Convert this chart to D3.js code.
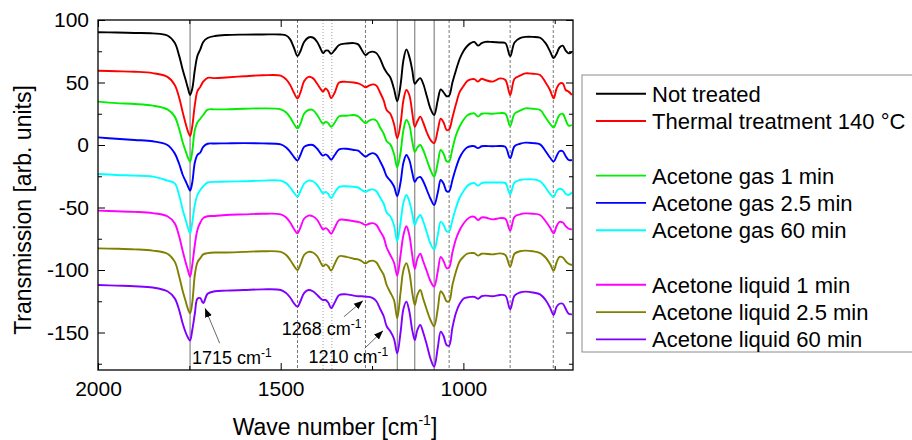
<!DOCTYPE html>
<html>
<head>
<meta charset="utf-8">
<script src="https://cdn.jsdelivr.net/npm/d3@7/dist/d3.min.js"></script>
<style>
  html, body { margin: 0; padding: 0; background: #fff; }
  svg { display: block; font-family: "Liberation Sans", Arial, sans-serif; }
</style>
</head>
<body>
<svg id="chart" width="912" height="440"></svg>
<script>
// Wavenumber grid (cm^-1) shared by all spectra
const wavenumbers = [
  2000, 1950, 1900, 1850, 1810, 1790, 1778, 1768, 1760, 1754,
  1748, 1742, 1735, 1728, 1720, 1712, 1700, 1680, 1650, 1600,
  1550, 1500, 1485, 1474, 1464, 1454, 1446, 1436, 1424, 1412,
  1400, 1390, 1384, 1377, 1370, 1362, 1352, 1340, 1320, 1300,
  1288, 1278, 1268, 1258, 1248, 1238, 1228, 1218, 1210, 1200,
  1190, 1181, 1172, 1164, 1156, 1148, 1140, 1133, 1126, 1118,
  1110, 1100, 1090, 1080, 1070, 1062, 1054, 1046, 1039, 1030,
  1020, 1010, 1000, 990, 980, 970, 960, 950, 940, 920,
  900, 885, 872, 860, 845, 830, 810, 790, 775, 763,
  753, 745, 737, 728, 720, 712, 703
];

// Transmission spectra (arb. units, vertically stacked)
const notTreated = [
  90.2, 90.0, 89.6, 89.3, 87.6, 81.8, 71.5, 60.0, 52.0, 45.6,
  40.0, 45.0, 60.0, 71.2, 76.5, 82.4, 85.6, 87.2, 88.0, 88.3,
  88.4, 88.4, 87.6, 84.5, 78.0, 71.2, 75.0, 82.4, 86.0, 86.0,
  82.4, 76.5, 73.5, 75.5, 75.5, 73.0, 76.0, 80.0, 81.2, 81.5,
  80.5, 76.0, 72.0, 74.0, 74.7, 73.5, 69.0, 62.0, 58.0, 54.0,
  45.0, 35.0, 48.0, 68.0, 76.5, 70.7, 60.0, 49.0, 51.5, 53.5,
  49.0, 39.0, 29.0, 24.0, 36.0, 44.5, 42.0, 39.0, 39.5, 50.0,
  60.0, 69.0, 75.0, 79.0, 81.5, 82.5, 79.5, 81.5, 82.5, 82.4,
  82.0, 81.5, 71.0, 82.0, 85.5, 86.5, 86.5, 85.8, 81.5, 75.0,
  69.5, 73.0, 78.0, 79.5, 75.5, 73.3, 74.5
];
const thermal140 = [
  59.4, 59.0, 58.6, 57.5, 54.5, 48.0, 38.0, 26.0, 17.0, 11.0,
  7.2, 15.0, 32.0, 43.0, 46.5, 50.7, 53.7, 53.5, 54.0, 55.0,
  55.8, 55.5, 52.5, 48.0, 42.0, 37.2, 42.0, 51.0, 54.5, 53.5,
  49.0, 44.5, 42.7, 45.3, 43.0, 37.5, 42.0, 50.0, 50.5, 50.0,
  49.3, 48.0, 46.2, 47.5, 48.5, 47.5, 42.0, 35.5, 28.0, 25.0,
  17.0, 5.3, 17.0, 36.0, 44.0, 40.0, 26.0, 14.5, 19.0, 22.7,
  18.0, 10.0, 4.0, 1.5, 12.0, 21.0, 18.0, 12.0, 12.5, 22.0,
  33.0, 42.5, 47.0, 51.0, 52.5, 52.7, 50.7, 53.0, 52.0, 50.7,
  53.3, 52.0, 40.0, 53.0, 55.5, 57.3, 57.0, 56.0, 50.0, 44.0,
  37.3, 45.0, 49.0, 49.3, 44.0, 42.7, 40.0
];
const gas1min = [
  34.7, 33.5, 32.8, 31.5, 28.5, 22.7, 13.0, 2.0, -5.0, -10.0,
  -13.3, -5.0, 12.0, 18.0, 21.0, 24.0, 28.3, 28.5, 28.5, 29.0,
  29.3, 28.5, 26.0, 22.0, 17.0, 13.3, 17.0, 25.0, 28.0, 28.0,
  24.0, 19.0, 17.0, 18.5, 17.5, 14.5, 18.0, 23.0, 23.4, 24.0,
  23.0, 20.0, 17.5, 19.5, 20.5, 19.5, 14.0, 9.0, 3.0, 0.5,
  -7.0, -18.0, -6.0, 12.0, 20.0, 16.0, 3.0, -5.5, -2.0, 0.0,
  -4.0, -12.0, -20.0, -25.3, -14.0, -4.0, -7.0, -13.0, -13.0, -3.0,
  8.0, 15.0, 20.0, 23.5, 25.0, 25.3, 22.7, 25.0, 25.3, 25.0,
  25.5, 25.0, 15.2, 25.0, 27.5, 29.3, 29.0, 28.0, 22.0, 17.0,
  14.0, 19.0, 24.0, 25.0, 20.0, 15.5, 16.0
];
const gas25min = [
  6.1, 5.0, 4.0, 3.0, 0.0, -6.7, -15.0, -24.0, -29.0, -33.0,
  -36.5, -30.0, -14.0, -8.0, -6.0, -1.5, 1.0, 1.2, 1.3, 1.5,
  1.3, 0.5, -2.0, -5.5, -9.5, -12.5, -8.0, -1.5, 0.0, 0.0,
  -3.0, -7.0, -8.5, -7.5, -9.0, -11.8, -8.0, -3.5, -3.0, -4.0,
  -4.5, -7.0, -9.3, -7.5, -6.5, -8.0, -13.0, -19.0, -25.0, -28.5,
  -33.0, -41.0, -30.0, -14.0, -8.0, -12.0, -22.0, -29.5, -26.5, -25.5,
  -29.0, -36.0, -43.0, -48.0, -38.0, -28.0, -31.0, -37.0, -37.0, -28.0,
  -18.0, -10.0, -5.0, -2.0, -1.0, -1.0, -2.5, -1.0, -0.8, -1.0,
  -0.8, -1.5, -10.7, -1.0, 1.0, 1.9, 1.5, 0.5, -5.0, -10.0,
  -13.3, -9.0, -5.0, -5.0, -9.0, -12.0, -12.0
];
const gas60min = [
  -23.2, -24.0, -24.5, -25.3, -28.5, -30.7, -40.0, -52.0, -60.0, -66.0,
  -70.7, -62.0, -48.0, -40.0, -36.0, -33.0, -30.0, -29.5, -29.3, -29.0,
  -28.5, -28.5, -30.5, -34.0, -38.0, -41.3, -37.0, -31.0, -28.5, -29.0,
  -32.0, -36.5, -38.7, -37.5, -39.0, -42.5, -38.0, -33.5, -33.0, -33.5,
  -34.0, -36.0, -37.5, -36.0, -35.5, -37.0, -42.0, -47.0, -54.0, -57.0,
  -64.0, -77.0, -62.0, -46.0, -40.0, -45.0, -55.0, -64.0, -59.0, -56.0,
  -61.0, -70.0, -79.0, -83.5, -72.0, -61.3, -64.0, -69.0, -69.0, -60.0,
  -50.0, -42.0, -37.0, -33.0, -31.0, -30.5, -32.5, -30.5, -30.0, -30.0,
  -30.0, -30.5, -39.5, -30.0, -28.0, -27.5, -27.5, -29.0, -34.0, -39.0,
  -41.5, -37.0, -35.0, -36.0, -39.0, -40.0, -38.0
];
const liquid1min = [
  -52.5, -53.0, -53.5, -54.5, -57.0, -62.7, -73.0, -85.0, -94.0, -100.0,
  -105.3, -96.0, -80.0, -68.0, -62.0, -58.5, -57.0, -56.8, -56.0, -55.5,
  -55.0, -55.5, -58.0, -62.0, -67.0, -70.7, -66.0, -59.0, -56.5, -57.0,
  -60.0, -65.0, -67.5, -66.5, -68.0, -71.0, -66.0, -60.0, -60.0, -61.0,
  -61.5, -62.5, -64.0, -63.0, -62.5, -64.0, -69.0, -74.0, -82.0, -88.0,
  -94.0, -104.5, -88.0, -72.0, -65.0, -72.0, -88.0, -99.0, -91.0, -87.0,
  -93.0, -101.0, -109.0, -113.3, -101.0, -89.5, -93.0, -98.5, -98.0, -86.0,
  -75.0, -68.0, -63.0, -59.5, -57.5, -57.5, -60.0, -58.0, -58.0, -59.5,
  -58.5, -59.0, -68.5, -57.5, -55.5, -54.7, -55.0, -56.0, -61.0, -66.0,
  -70.7, -65.0, -61.5, -62.0, -65.0, -67.0, -67.5
];
const liquid25min = [
  -82.7, -83.0, -83.5, -84.5, -87.0, -93.3, -105.0, -117.0, -125.0, -131.0,
  -134.7, -126.0, -104.0, -94.0, -90.5, -87.5, -86.5, -86.0, -86.0, -85.5,
  -85.0, -85.5, -88.0, -92.0, -96.5, -100.0, -95.5, -88.0, -85.5, -86.0,
  -89.0, -94.5, -97.0, -95.5, -97.0, -100.5, -95.0, -89.0, -89.5, -91.0,
  -91.5, -93.0, -94.7, -93.0, -92.5, -94.0, -99.0, -104.0, -112.0, -118.0,
  -124.0, -138.5, -118.0, -100.0, -94.5, -102.0, -118.0, -128.0, -120.0, -116.0,
  -123.0, -132.0, -140.0, -145.0, -131.0, -117.0, -120.0, -125.0, -125.0, -112.0,
  -101.0, -93.0, -89.5, -87.0, -86.5, -86.5, -88.5, -87.0, -87.0, -87.5,
  -86.7, -88.0, -97.3, -87.0, -85.0, -84.5, -85.0, -86.5, -90.0, -95.0,
  -100.5, -94.0, -89.5, -90.0, -93.0, -95.0, -96.0
];
const liquid60min = [
  -112.0, -112.5, -113.0, -114.0, -117.0, -122.7, -132.0, -143.0, -150.0, -154.0,
  -156.5, -148.0, -135.0, -123.0, -122.5, -126.5, -119.0, -117.0, -116.5, -116.0,
  -115.5, -116.0, -118.5, -122.0, -126.5, -129.3, -125.0, -118.5, -116.0, -117.0,
  -120.0, -123.0, -124.0, -124.0, -126.0, -130.5, -126.0, -120.0, -119.5, -120.5,
  -121.0, -121.0, -121.3, -121.5, -122.5, -125.0, -131.0, -137.0, -145.0, -149.0,
  -155.0, -166.7, -150.0, -131.0, -125.3, -133.0, -148.0, -156.0, -148.0, -144.0,
  -150.0, -160.0, -171.0, -177.3, -162.0, -149.3, -153.0, -160.0, -160.5, -146.0,
  -134.0, -127.0, -123.0, -122.0, -121.5, -121.5, -123.0, -121.0, -120.5, -121.0,
  -120.0, -120.5, -131.5, -120.5, -118.0, -117.3, -118.0, -119.5, -124.0, -130.0,
  -136.0, -129.5, -127.0, -127.0, -131.0, -135.0, -135.5
];

const seriesLabels = [
  "Not treated", "Thermal treatment 140 °C",
  "Acetone gas 1 min", "Acetone gas 2.5 min", "Acetone gas 60 min",
  "Acetone liquid 1 min", "Acetone liquid 2.5 min", "Acetone liquid 60 min"
];
const seriesValues = [notTreated, thermal140, gas1min, gas25min, gas60min,
                      liquid1min, liquid25min, liquid60min];

// Band positions marked by vertical guide lines (cm^-1)
const solidBands = [1748, 1181, 1133, 1080];
const dashedBands = [1454, 1268, 1039, 872, 754];
const dottedBands = [1384, 1360];

// Axis ticks
const xMajorTicks = [2000, 1500, 1000];
const xMinorTicks = [1750, 1250, 750];
const yMajorTicks = [100, 50, 0, -50, -100, -150];
const yMinorTicks = [75, 25, -25, -75, -125, -175];

// Annotated bands: label, text start, arrow tail and arrow tip (wavenumber, value)
const annotationBands = ["1715", "1268", "1210"];
const annotationText = [[1743, -175.2], [1497, -152], [1424, -174.6]];
const annotationTail = [[1667, -158.6], [1327, -137.4], [1270, -162.6]];
const annotationTip = [[1707, -130.6], [1275, -124.6], [1220, -148.6]];

// ---- styling ----
const colors = ["#000000", "#ff0000", "#00ee00", "#0000ff", "#00ffff",
                "#ff00ff", "#808000", "#8000ff"];
const legendRowIndex = [0, 1, 3, 4, 5, 7, 8, 9];

const plot = { left: 98, right: 573, top: 20, bottom: 370 };

const svg = d3.select("#chart");

const x = d3.scaleLinear().domain([2000, 700]).range([plot.left, plot.right]);
const y = d3.scaleLinear().domain([-180, 100]).range([plot.bottom, plot.top]);

const defs = svg.append("defs");
defs.append("clipPath").attr("id", "plotClip")
  .append("rect")
  .attr("x", plot.left).attr("y", plot.top)
  .attr("width", plot.right - plot.left).attr("height", plot.bottom - plot.top);
defs.append("marker")
  .attr("id", "arrowHead").attr("viewBox", "0 0 10 10")
  .attr("refX", 10).attr("refY", 5)
  .attr("markerWidth", 9).attr("markerHeight", 9)
  .attr("markerUnits", "userSpaceOnUse")
  .attr("orient", "auto")
  .append("path").attr("d", "M0,1 L10,5 L0,9 Z").attr("fill", "#000");

// Guide lines for assigned bands
const guides = svg.append("g").attr("clip-path", "url(#plotClip)");
guides.selectAll("line.solid").data(solidBands).join("line")
  .attr("class", "solid")
  .attr("x1", d => x(d)).attr("x2", d => x(d))
  .attr("y1", plot.top).attr("y2", plot.bottom)
  .attr("stroke", "#6e6e6e").attr("stroke-width", 1);
guides.selectAll("line.dashed").data(dashedBands).join("line")
  .attr("class", "dashed")
  .attr("x1", d => x(d)).attr("x2", d => x(d))
  .attr("y1", plot.top).attr("y2", plot.bottom)
  .attr("stroke", "#555").attr("stroke-width", 0.8)
  .attr("stroke-dasharray", "3,2");
guides.selectAll("line.dotted").data(dottedBands).join("line")
  .attr("class", "dotted")
  .attr("x1", d => x(d)).attr("x2", d => x(d))
  .attr("y1", plot.top).attr("y2", plot.bottom)
  .attr("stroke", "#888").attr("stroke-width", 0.8)
  .attr("stroke-dasharray", "1,2");

// Spectra
const line = d3.line()
  .x((d, i) => x(wavenumbers[i]))
  .y(d => y(d))
  .curve(d3.curveCatmullRom.alpha(0.5));

const spectra = svg.append("g").attr("clip-path", "url(#plotClip)");
seriesValues.slice().reverse().forEach((vals, k) => {
  const idx = seriesValues.length - 1 - k;
  spectra.append("path")
    .datum(vals)
    .attr("d", line)
    .attr("fill", "none")
    .attr("stroke", colors[idx])
    .attr("stroke-width", 1.9)
    .attr("stroke-linejoin", "round");
});

// Axes: ticks point inward on all four sides
function styleAxis(g) {
  g.select(".domain").remove();
  g.selectAll(".tick line").attr("stroke", "#000").attr("stroke-width", 1);
  g.selectAll(".tick text").attr("fill", "#000").attr("font-size", 21)
    .attr("font-family", "'Liberation Sans', Arial, sans-serif");
}
svg.append("g").attr("transform", `translate(0,${plot.bottom})`)
  .call(d3.axisBottom(x).tickValues(xMajorTicks).tickSize(-7).tickPadding(11).tickFormat(d3.format("d")))
  .call(styleAxis);
svg.append("g").attr("transform", `translate(0,${plot.bottom})`)
  .call(d3.axisBottom(x).tickValues(xMinorTicks).tickSize(-4).tickFormat(""))
  .call(styleAxis);
svg.append("g").attr("transform", `translate(0,${plot.top})`)
  .call(d3.axisTop(x).tickValues(xMajorTicks).tickSize(-7).tickFormat(""))
  .call(styleAxis);
svg.append("g").attr("transform", `translate(0,${plot.top})`)
  .call(d3.axisTop(x).tickValues(xMinorTicks).tickSize(-4).tickFormat(""))
  .call(styleAxis);
svg.append("g").attr("transform", `translate(${plot.left},0)`)
  .call(d3.axisLeft(y).tickValues(yMajorTicks).tickSize(-7).tickPadding(9).tickFormat(d => String(d)))
  .call(styleAxis);
svg.append("g").attr("transform", `translate(${plot.left},0)`)
  .call(d3.axisLeft(y).tickValues(yMinorTicks).tickSize(-4).tickFormat(""))
  .call(styleAxis);
svg.append("g").attr("transform", `translate(${plot.right},0)`)
  .call(d3.axisRight(y).tickValues(yMajorTicks).tickSize(-7).tickFormat(""))
  .call(styleAxis);
svg.append("g").attr("transform", `translate(${plot.right},0)`)
  .call(d3.axisRight(y).tickValues(yMinorTicks).tickSize(-4).tickFormat(""))
  .call(styleAxis);

// Frame
svg.append("rect")
  .attr("x", plot.left).attr("y", plot.top)
  .attr("width", plot.right - plot.left).attr("height", plot.bottom - plot.top)
  .attr("fill", "none").attr("stroke", "#000").attr("stroke-width", 1.3);

// Axis titles
const xTitle = svg.append("text")
  .attr("x", 335).attr("y", 435)
  .attr("text-anchor", "middle").attr("font-size", 23).attr("fill", "#000");
xTitle.append("tspan").text("Wave number [cm");
xTitle.append("tspan").attr("font-size", 14).attr("dy", -10).text("-1");
xTitle.append("tspan").attr("dy", 10).text("]");

svg.append("text")
  .attr("transform", `translate(31,${(plot.top + plot.bottom) / 2 + 15}) rotate(-90)`)
  .attr("text-anchor", "middle").attr("font-size", 23).attr("fill", "#000")
  .text("Transmission [arb. units]");

// Band annotations with arrows
annotationBands.forEach((lab, i) => {
  svg.append("line")
    .attr("x1", x(annotationTail[i][0])).attr("y1", y(annotationTail[i][1]))
    .attr("x2", x(annotationTip[i][0])).attr("y2", y(annotationTip[i][1]))
    .attr("stroke", "#444").attr("stroke-width", 0.8)
    .attr("marker-end", "url(#arrowHead)");
  const t = svg.append("text")
    .attr("x", x(annotationText[i][0])).attr("y", y(annotationText[i][1]))
    .attr("font-size", 18).attr("fill", "#000");
  t.append("tspan").text(lab + " cm");
  t.append("tspan").attr("font-size", 12).attr("dy", -7).text("-1");
});

// Legend
const legend = svg.append("g");
legend.append("rect")
  .attr("x", 582).attr("y", 75).attr("width", 360).attr("height", 277)
  .attr("fill", "#fff").attr("stroke", "#8c8c8c").attr("stroke-width", 1);
seriesLabels.forEach((lab, i) => {
  const by = 101.7 + legendRowIndex[i] * 27.3;
  legend.append("line")
    .attr("x1", 596).attr("x2", 646).attr("y1", by - 8).attr("y2", by - 8)
    .attr("stroke", colors[i]).attr("stroke-width", 1.9);
  legend.append("text")
    .attr("x", 652).attr("y", by)
    .attr("font-size", 22).attr("fill", "#000")
    .text(lab);
});
</script>
</body>
</html>
